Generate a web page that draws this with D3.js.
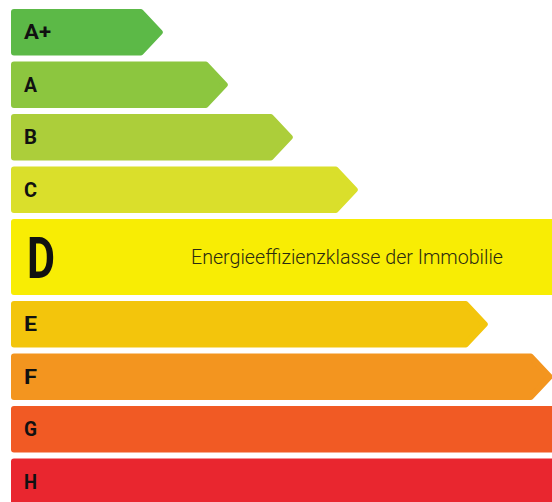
<!DOCTYPE html>
<html lang="de">
<head>
    <meta charset="utf-8">
    <title>Energieeffizienzklasse</title>
    <script src="https://d3js.org/d3.v7.min.js"></script>
    <style>
        body { margin: 0; background: #fff; }
        svg { display: block; }
        .label { font-family: Roboto, "Liberation Sans", sans-serif; font-weight: 700; fill: #111; }
        .caption { font-family: Roboto, "Open Sans", sans-serif; font-weight: 300; fill: #2b2b10; }
    </style>
</head>
<body>
<div id="viz"></div>
<script>
    // energy classes, top to bottom
    var classes = ["A+", "A", "B", "C", "D", "E", "F", "G", "H"];
    // arrow length per class (steps)
    var lengths = [1, 2, 3, 4, 5, 6, 7, 8, 9];
    var colors = ["#5cb947", "#8cc63f", "#acce3a", "#dadf2b", "#f8ed04", "#f3c50c", "#f3951f", "#f15a24", "#e9262f"];
    var highlighted = "D";
    var caption = "Energieeffizienzklasse der Immobilie";

    var width = 552, height = 502;
    var left = 11, gap = 6, rowH = 46.5, bigH = 76;

    var svg = d3.select("#viz").append("svg")
        .attr("width", width)
        .attr("height", height);

    // tip position of each arrow
    var x = d3.scaleLinear().domain([0, 9]).range([99, 684]);

    // row spans in units of one normal row (bar + gap)
    var pitch = rowH + gap;
    var units = classes.map(function(c) { return c === highlighted ? (bigH + gap) / pitch : 1; });
    var starts = [];
    var acc = 0;
    units.forEach(function(u) { starts.push(acc); acc += u; });
    var y = d3.scaleLinear().domain([0, 1]).range([9, 9 + pitch]);

    var rows = classes.map(function(c, i) {
        return {
            name: c, value: lengths[i], color: colors[i],
            top: y(starts[i]), h: y(starts[i] + units[i]) - y(starts[i]) - gap,
            big: c === highlighted
        };
    });

    var inset = 3;
    function arrowPath(d) {
        var t = d.top + inset, b = d.top + d.h - inset, m = d.top + d.h / 2;
        var l = left + inset;
        if (d.big) {
            var r = width + 10;
            return "M" + l + "," + t + "L" + r + "," + t + "L" + r + "," + b + "L" + l + "," + b + "Z";
        }
        var tip = x(d.value) - inset * 1.41;
        var body = x(d.value) - d.h / 2;
        return "M" + l + "," + t + "L" + body + "," + t + "L" + tip + "," + m +
            "L" + body + "," + b + "L" + l + "," + b + "Z";
    }

    var g = svg.selectAll(".row")
        .data(rows)
        .enter()
        .append("g")
        .attr("class", "row");

    g.append("path")
        .attr("d", arrowPath)
        .attr("fill", function(d) { return d.color; })
        .attr("stroke", function(d) { return d.color; })
        .attr("stroke-width", inset * 2)
        .attr("stroke-linejoin", "round");

    g.filter(function(d) { return !d.big; })
        .append("text")
        .attr("class", "label")
        .attr("x", 24)
        .attr("y", function(d) { return d.top + d.h / 2 + 7; })
        .attr("font-size", 20)
        .attr("textLength", function(d) { return d.name.length > 1 ? 27 : 13; })
        .attr("lengthAdjust", "spacingAndGlyphs")
        .text(function(d) { return d.name; });

    var big = g.filter(function(d) { return d.big; });
    big.append("text")
        .attr("class", "label")
        .attr("x", 27)
        .attr("y", function(d) { return d.top + d.h / 2 + 21; })
        .attr("font-size", 58)
        .attr("textLength", 28)
        .attr("lengthAdjust", "spacingAndGlyphs")
        .text(function(d) { return d.name; });
    big.append("text")
        .attr("class", "caption")
        .attr("x", 191)
        .attr("y", function(d) { return d.top + d.h / 2 + 7; })
        .attr("font-size", 20)
        .attr("textLength", 312)
        .attr("lengthAdjust", "spacingAndGlyphs")
        .text(caption);
</script>
</body>
</html>
